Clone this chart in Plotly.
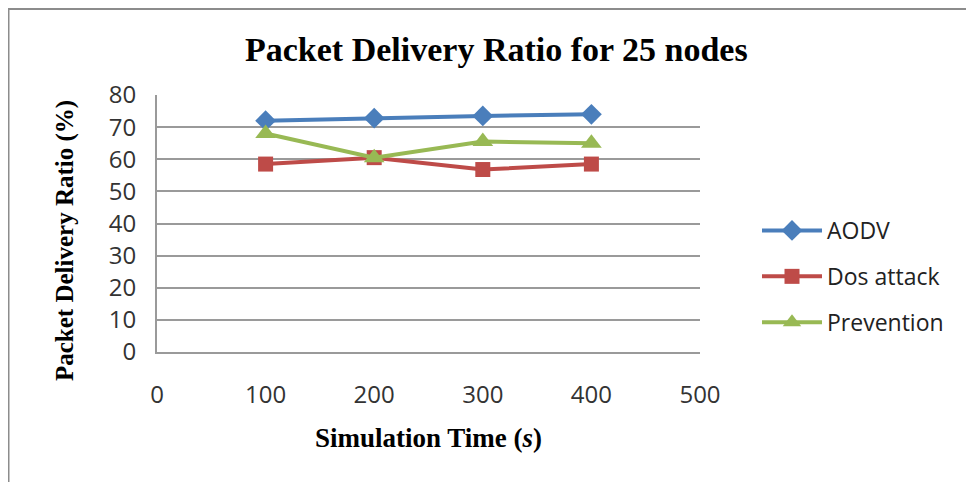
import plotly.graph_objects as go

# simulation time (s)
sim_time = [100, 200, 300, 400]

# packet delivery ratio (%) per scheme
aodv = [72, 72.8, 73.5, 74]
dos_attack = [58.5, 60.5, 56.8, 58.5]
prevention = [68, 60.5, 65.5, 65]

series = [
    ("AODV", aodv, "#4A7EBB", "diamond", 16),
    ("Dos attack", dos_attack, "#BE4B48", "square", 15),
    ("Prevention", prevention, "#98B954", "triangle-up", 18),
]

fig = go.Figure()
for name, vals, color, symbol, size in series:
    fig.add_trace(
        go.Scatter(
            x=sim_time,
            y=vals,
            name=name,
            legendgroup=name,
            mode="lines+markers",
            line=dict(color=color, width=4),
            marker=dict(symbol=symbol, size=size, color=color),
        )
    )

# the page body adds an 8px margin, so figure pixels = screen pixels - 8
OFF = 8
W, H = 974 - OFF, 482 - OFF
L, R, T, B = 157 - OFF, 700 - OFF, 95 - OFF, 352 - OFF
pw, ph = R - L, B - T


def px(x):
    return (x - OFF - L) / pw


def py(y):
    return (B - (y - OFF)) / ph


fig.update_layout(
    width=W,
    height=H,
    margin=dict(l=L, r=W - R, t=T, b=H - B),
    paper_bgcolor="white",
    plot_bgcolor="white",
    showlegend=True,
    legend=dict(
        x=px(757),
        y=py(209),
        xanchor="left",
        yanchor="top",
        font=dict(family="Open Sans", size=23, color="#222222"),
        tracegroupgap=13,
        itemwidth=60,
        bgcolor="rgba(0,0,0,0)",
    ),
    xaxis=dict(
        range=[0, 500],
        dtick=100,
        tick0=0,
        showgrid=False,
        zeroline=False,
        showline=True,
        linecolor="#9a9a9a",
        linewidth=2,
        ticks="",
        ticklabelstandoff=20,
        tickfont=dict(family="Open Sans", size=24, color="#333333"),
    ),
    yaxis=dict(
        range=[0, 80],
        dtick=10,
        tick0=0,
        showgrid=True,
        gridcolor="#9a9a9a",
        gridwidth=1.5,
        zeroline=False,
        showline=True,
        linecolor="#9a9a9a",
        linewidth=2,
        ticks="",
        ticklabelstandoff=14,
        tickfont=dict(family="Open Sans", size=24, color="#333333"),
    ),
    annotations=[
        dict(
            text="<b>Packet Delivery Ratio for 25 nodes</b>",
            xref="paper", yref="paper",
            x=px(496), y=py(50),
            xanchor="center", yanchor="middle",
            showarrow=False,
            font=dict(family="Liberation Serif", size=34, color="black"),
        ),
        dict(
            text="<b>Packet Delivery Ratio (%)</b>",
            xref="paper", yref="paper",
            x=px(65), y=py(241),
            xanchor="center", yanchor="middle",
            textangle=-90,
            showarrow=False,
            font=dict(family="Liberation Serif", size=25, color="black"),
        ),
        dict(
            text="<b>Simulation Time (<i>s</i>)</b>",
            xref="paper", yref="paper",
            x=px(428), y=py(438),
            xanchor="center", yanchor="middle",
            showarrow=False,
            font=dict(family="Liberation Serif", size=27, color="black"),
        ),
    ],
    shapes=[
        # outer frame: top and left edges only
        dict(
            type="line",
            xref="paper", yref="paper",
            x0=px(8), x1=px(974), y0=py(9), y1=py(9),
            line=dict(color="#8c8c8c", width=2),
        ),
        dict(
            type="line",
            xref="paper", yref="paper",
            x0=px(8.5), x1=px(8.5), y0=py(9), y1=py(482),
            line=dict(color="#8c8c8c", width=2),
        ),
    ],
)

fig.write_html("out.html")
